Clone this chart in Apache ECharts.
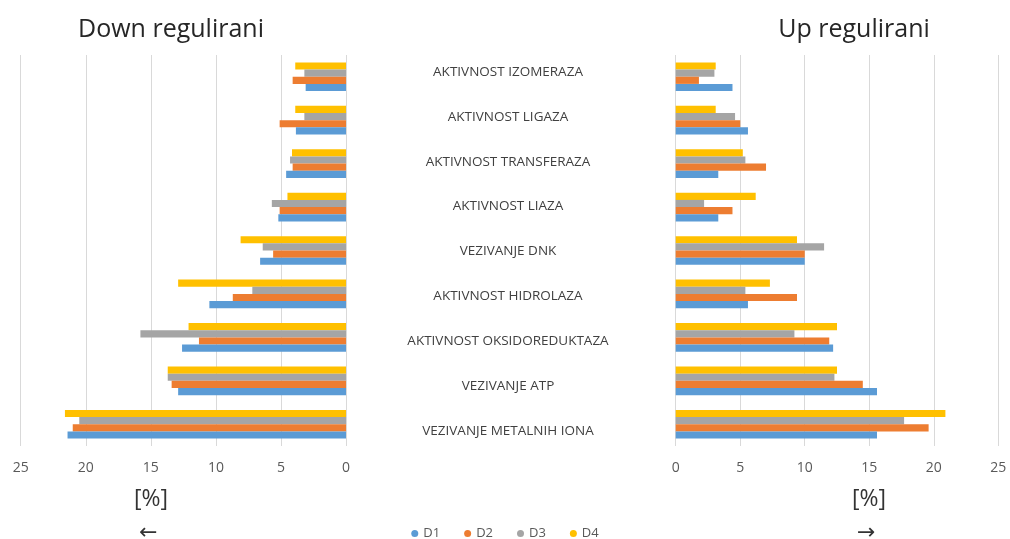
<!DOCTYPE html>
<html><head><meta charset="utf-8">
<script src="https://cdn.jsdelivr.net/npm/echarts@6/dist/echarts.min.js"></script>
<style>html,body{margin:0;padding:0;background:#fff}#c{width:1010px;height:539px}</style>
</head><body><div id="c"></div>
<script>
// categories listed bottom to top
const categories = ['VEZIVANJE METALNIH IONA','VEZIVANJE ATP','AKTIVNOST OKSIDOREDUKTAZA','AKTIVNOST HIDROLAZA','VEZIVANJE DNK','AKTIVNOST LIAZA','AKTIVNOST TRANSFERAZA','AKTIVNOST LIGAZA','AKTIVNOST IZOMERAZA'];
const seriesNames = ['D1','D2','D3','D4'];
const colors = ['#5B9BD5','#ED7D31','#A5A5A5','#FFC000'];
const downD1 = [21.4,12.9,12.6,10.5,6.6,5.2,4.6,3.85,3.1];
const downD2 = [21.0,13.4,11.3,8.7,5.6,5.1,4.1,5.1,4.1];
const downD3 = [20.5,13.7,15.8,7.2,6.4,5.7,4.3,3.2,3.2];
const downD4 = [21.6,13.7,12.1,12.9,8.1,4.5,4.15,3.9,3.9];
const upD1 = [15.6,15.6,12.2,5.6,10.0,3.3,3.3,5.6,4.4];
const upD2 = [19.6,14.5,11.9,9.4,10.0,4.4,7.0,5.0,1.8];
const upD3 = [17.7,12.3,9.2,5.4,11.5,2.2,5.4,4.6,3.0];
const upD4 = [20.9,12.5,12.5,7.3,9.4,6.2,5.2,3.1,3.1];
const xTicks = [0,5,10,15,20,25];

const downData = [downD1,downD2,downD3,downD4];
const upData = [upD1,upD2,upD3,upD4];
const F = '"Open Sans", sans-serif';

const chart = echarts.init(document.getElementById('c'));
const series = [];
// added in reverse so D1 sits at the bottom of each group
for (let i = seriesNames.length - 1; i >= 0; i--) {
  series.push({name:seriesNames[i],type:'bar',xAxisIndex:0,yAxisIndex:0,data:downData[i],itemStyle:{color:colors[i]},barGap:'0%',barCategoryGap:'34%'});
}
for (let i = seriesNames.length - 1; i >= 0; i--) {
  series.push({name:seriesNames[i],type:'bar',xAxisIndex:1,yAxisIndex:1,data:upData[i],itemStyle:{color:colors[i]},barGap:'0%',barCategoryGap:'34%'});
}
const xAxisBase = {type:'value',min:xTicks[0],max:xTicks[xTicks.length-1],interval:5,
  axisLine:{show:false},axisTick:{show:false},
  splitLine:{lineStyle:{color:'#d9d9d9',width:1}},
  axisLabel:{color:'#595959',fontSize:14,fontFamily:F,margin:15}};
chart.setOption({
  animation:false,
  textStyle:{fontFamily:F},
  title:[
    {text:'Down regulirani',left:166,top:12,textAlign:'center',textStyle:{fontSize:25,fontWeight:'normal',color:'#262626',fontFamily:F}},
    {text:'Up regulirani',left:849,top:12,textAlign:'center',textStyle:{fontSize:25,fontWeight:'normal',color:'#262626',fontFamily:F}}
  ],
  legend:{data:seriesNames,top:522,left:'center',icon:'circle',itemWidth:7,itemHeight:7,itemGap:24,
    textStyle:{fontSize:13,color:'#595959',fontFamily:F}},
  grid:[
    {left:20.7,right:664,top:55,bottom:93},
    {left:675.7,right:11.7,top:55,bottom:93},
    {left:370,right:370,top:49.6,bottom:85.6}
  ],
  xAxis:[
    Object.assign({},xAxisBase,{gridIndex:0,inverse:true}),
    Object.assign({},xAxisBase,{gridIndex:1}),
    {type:'value',gridIndex:2,min:0,max:1,show:false}
  ],
  yAxis:[
    {type:'category',gridIndex:0,data:categories,axisLine:{show:false},axisTick:{show:false},axisLabel:{show:false}},
    {type:'category',gridIndex:1,data:categories,axisLine:{show:false},axisTick:{show:false},axisLabel:{show:false}},
    {type:'category',gridIndex:2,data:categories,axisLine:{show:false},axisTick:{show:false},splitLine:{show:false},
      axisLabel:{align:'center',margin:-138,fontSize:13.5,color:'#404040',fontFamily:F}}
  ],
  graphic:[
    {type:'text',left:134,top:488,style:{text:'[%]',fontSize:23,fill:'#333',fontFamily:F}},
    {type:'text',left:852,top:488,style:{text:'[%]',fontSize:23,fill:'#333',fontFamily:F}},
    {type:'text',left:139,top:522,style:{text:'←',fontSize:22,fill:'#333',fontFamily:'DejaVu Sans'}},
    {type:'text',left:857,top:522,style:{text:'→',fontSize:22,fill:'#333',fontFamily:'DejaVu Sans'}}
  ],
  series:series
});
</script></body></html>
